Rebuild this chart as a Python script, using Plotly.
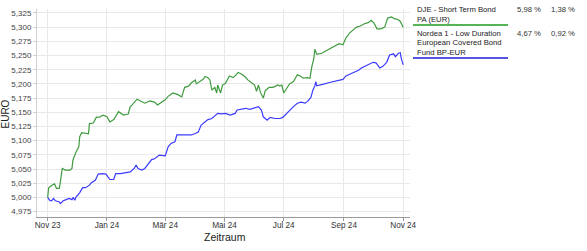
import plotly.graph_objects as go

# ---- data ----
dje_dates = ["2023-11-01","2023-11-02","2023-11-05","2023-11-08","2023-11-10","2023-11-13","2023-11-14","2023-11-16",
    "2023-11-19","2023-11-24","2023-11-26","2023-11-27","2023-11-30","2023-12-03","2023-12-04","2023-12-06",
    "2023-12-13","2023-12-14","2023-12-18","2023-12-21","2023-12-25","2023-12-28","2024-01-01","2024-01-04",
    "2024-01-08","2024-01-10","2024-01-13","2024-01-18","2024-01-23","2024-01-25","2024-01-27","2024-02-01",
    "2024-02-05","2024-02-09","2024-02-14","2024-02-19","2024-02-22","2024-02-26","2024-03-01","2024-03-04",
    "2024-03-09","2024-03-14","2024-03-18","2024-03-21","2024-03-25","2024-03-28","2024-04-01","2024-04-02",
    "2024-04-06","2024-04-09","2024-04-11","2024-04-14","2024-04-16","2024-04-18","2024-04-21","2024-04-23",
    "2024-04-24","2024-04-27","2024-04-29","2024-05-02","2024-05-06","2024-05-10","2024-05-13","2024-05-15",
    "2024-05-18","2024-05-22","2024-05-25","2024-05-29","2024-06-01","2024-06-03","2024-06-05","2024-06-07",
    "2024-06-10","2024-06-12","2024-06-16","2024-06-20","2024-06-25","2024-06-27","2024-06-29","2024-07-01",
    "2024-07-04","2024-07-07","2024-07-11","2024-07-15","2024-07-18","2024-07-21","2024-07-25","2024-07-28",
    "2024-07-30","2024-08-01","2024-08-02","2024-08-04","2024-08-09","2024-08-12","2024-08-15","2024-08-19",
    "2024-08-22","2024-08-27","2024-08-31","2024-09-03","2024-09-07","2024-09-10","2024-09-14","2024-09-18",
    "2024-09-22","2024-09-26","2024-09-29","2024-10-02","2024-10-05","2024-10-09","2024-10-13","2024-10-16",
    "2024-10-20","2024-10-23","2024-10-27","2024-10-29","2024-11-01"]
dje_values = [5.000,5.017,5.021,5.024,5.016,5.016,5.027,5.051,
    5.048,5.048,5.051,5.066,5.079,5.089,5.107,5.114,
    5.112,5.130,5.131,5.141,5.142,5.145,5.142,5.133,
    5.137,5.142,5.151,5.145,5.147,5.160,5.163,5.173,
    5.170,5.166,5.170,5.168,5.163,5.168,5.172,5.178,
    5.184,5.181,5.177,5.194,5.196,5.202,5.207,5.200,
    5.204,5.208,5.213,5.211,5.207,5.189,5.194,5.184,
    5.198,5.184,5.198,5.201,5.214,5.211,5.216,5.220,
    5.218,5.213,5.207,5.201,5.198,5.187,5.198,5.185,
    5.175,5.188,5.194,5.194,5.198,5.196,5.198,5.184,
    5.192,5.200,5.204,5.216,5.214,5.210,5.211,5.210,
    5.231,5.245,5.261,5.252,5.254,5.257,5.259,5.263,
    5.266,5.271,5.269,5.281,5.290,5.294,5.300,5.302,
    5.306,5.308,5.312,5.307,5.297,5.297,5.300,5.316,
    5.318,5.315,5.313,5.310,5.300]

nordea_dates = ["2023-11-01","2023-11-03","2023-11-05","2023-11-07","2023-11-09","2023-11-13","2023-11-14","2023-11-17",
    "2023-11-20","2023-11-23","2023-11-26","2023-11-27","2023-11-29","2023-11-30","2023-12-04","2023-12-07",
    "2023-12-10","2023-12-14","2023-12-16","2023-12-20","2023-12-23","2023-12-27","2023-12-31","2024-01-04",
    "2024-01-08","2024-01-10","2024-01-15","2024-01-20","2024-01-25","2024-01-29","2024-01-31","2024-02-02",
    "2024-02-06","2024-02-09","2024-02-13","2024-02-16","2024-02-19","2024-02-24","2024-03-01","2024-03-04",
    "2024-03-07","2024-03-11","2024-03-13","2024-03-18","2024-03-23","2024-03-28","2024-04-01","2024-04-04",
    "2024-04-07","2024-04-11","2024-04-14","2024-04-18","2024-04-21","2024-04-24","2024-04-28","2024-05-02",
    "2024-05-07","2024-05-12","2024-05-14","2024-05-18","2024-05-23","2024-05-27","2024-05-31","2024-06-05",
    "2024-06-08","2024-06-10","2024-06-14","2024-06-17","2024-06-22","2024-06-27","2024-06-30","2024-07-04",
    "2024-07-07","2024-07-11","2024-07-15","2024-07-19","2024-07-23","2024-07-26","2024-07-29","2024-07-31",
    "2024-08-02","2024-08-03","2024-08-04","2024-08-09","2024-08-12","2024-08-16","2024-08-21","2024-08-26",
    "2024-08-31","2024-09-03","2024-09-08","2024-09-12","2024-09-16","2024-09-19","2024-09-24","2024-09-27",
    "2024-10-01","2024-10-04","2024-10-08","2024-10-11","2024-10-15","2024-10-18","2024-10-22","2024-10-24",
    "2024-10-27","2024-10-29","2024-10-30","2024-11-01"]
nordea_values = [5.000,4.995,4.994,4.998,4.994,4.992,4.989,4.994,
    4.996,4.998,4.996,5.000,4.995,5.000,5.0085,5.017,
    5.017,5.0215,5.026,5.030,5.041,5.042,5.041,5.0315,
    5.0315,5.042,5.042,5.043,5.045,5.051,5.057,5.051,
    5.048,5.051,5.060,5.0666,5.068,5.0745,5.073,5.089,
    5.095,5.098,5.110,5.110,5.110,5.110,5.1125,5.115,
    5.1275,5.133,5.137,5.139,5.143,5.148,5.147,5.148,
    5.145,5.148,5.154,5.155,5.157,5.155,5.157,5.160,
    5.154,5.142,5.136,5.141,5.139,5.139,5.141,5.148,
    5.154,5.160,5.166,5.168,5.166,5.170,5.176,5.189,
    5.1965,5.204,5.1965,5.198,5.200,5.202,5.204,5.206,
    5.208,5.214,5.218,5.222,5.224,5.228,5.232,5.2336,
    5.238,5.237,5.228,5.231,5.238,5.251,5.253,5.248,
    5.254,5.255,5.245,5.2336]

series_names = [["DJE - Short Term Bond", "PA (EUR)"],
                ["Nordea 1 - Low Duration", "European Covered Bond", "Fund BP-EUR"]]
series_perf_total = ["5,98 %", "4,67 %"]
series_perf_period = ["1,38 %", "0,92 %"]
series_colors = ["#3f9b3f", "#3b3bff"]
underline_colors = ["#1e9a1e", "#1c1cdc"]

tick_dates = ["2023-11-01","2024-01-01","2024-03-01","2024-05-01","2024-07-01","2024-09-01","2024-11-01"]
tick_labels = ["Nov 23","Jan 24","Mär 24","Mai 24","Jul 24","Sep 24","Nov 24"]
y_ticks = [4.975,5.000,5.025,5.050,5.075,5.100,5.125,5.150,5.175,5.200,5.225,5.250,5.275,5.300,5.325]

W, H = 587, 251
ML, MR, MT, MB = 37, 177, 9, 34
PW = W - ML - MR
PH = H - MT - MB

def px2paper_x(px):
    return (px - ML) / PW

def py2paper_y(py):
    return 1 - (py - MT) / PH

fig = go.Figure()
fig.add_trace(go.Scatter(x=dje_dates, y=dje_values, mode="lines",
                         line=dict(color=series_colors[0], width=1.2), name="DJE"))
fig.add_trace(go.Scatter(x=nordea_dates, y=nordea_values, mode="lines",
                         line=dict(color=series_colors[1], width=1.2), name="Nordea"))

font_family = "Liberation Sans, Arial, sans-serif"

fig.update_layout(
    width=W, height=H,
    margin=dict(l=ML, r=MR, t=MT, b=MB, pad=0),
    paper_bgcolor="white", plot_bgcolor="white",
    showlegend=False,
    separators=",.",
    font=dict(family=font_family, size=8, color="#333333"),
    xaxis=dict(
        range=["2023-10-21", "2024-11-08"],
        tickvals=tick_dates, ticktext=tick_labels,
        showgrid=True, gridcolor="#e9e9e9", gridwidth=1,
        showline=True, linecolor="#9a9a9a", linewidth=1,
        ticks="outside", ticklen=3, tickcolor="#9a9a9a",
        tickfont=dict(size=8.2, color="#333333"),
        ticklabelstandoff=-3,
        zeroline=False,
    ),
    yaxis=dict(
        range=[4.9654, 5.332],
        tickvals=y_ticks, tickformat=".3f",
        showgrid=True, gridcolor="#e9e9e9", gridwidth=1,
        showline=True, linecolor="#d0d0d0", linewidth=1,
        ticks="outside", ticklen=3, tickcolor="#d0d0d0",
        tickfont=dict(size=8, color="#444444"),
        zeroline=False,
    ),
)

annotations = []
shapes = []
# axis titles
annotations.append(dict(text="EURO", xref="paper", yref="paper",
                        x=px2paper_x(4.5), y=py2paper_y(114), textangle=-90,
                        showarrow=False, font=dict(size=10, color="#222222"),
                        xanchor="center", yanchor="middle"))
annotations.append(dict(text="Zeitraum", xref="paper", yref="paper",
                        x=px2paper_x(225), y=py2paper_y(237),
                        showarrow=False, font=dict(size=10.5, color="#222222"),
                        xanchor="center", yanchor="middle"))

# legend table
line_h = 9.6
block_tops = [10, 33.3]
for i in range(2):
    for j, txt in enumerate(series_names[i]):
        annotations.append(dict(text=txt, xref="paper", yref="paper",
                                x=px2paper_x(415), y=py2paper_y(block_tops[i] + j * line_h),
                                showarrow=False, xanchor="left", yanchor="middle",
                                font=dict(size=7.7, color="#222222")))
    annotations.append(dict(text=series_perf_total[i], xref="paper", yref="paper",
                            x=px2paper_x(543), y=py2paper_y(block_tops[i]),
                            showarrow=False, xanchor="right", yanchor="middle",
                            font=dict(size=7.7, color="#333333")))
    annotations.append(dict(text=series_perf_period[i], xref="paper", yref="paper",
                            x=px2paper_x(577), y=py2paper_y(block_tops[i]),
                            showarrow=False, xanchor="right", yanchor="middle",
                            font=dict(size=7.7, color="#333333")))
    uy = block_tops[i] + (len(series_names[i]) - 1) * line_h + 5.4
    shapes.append(dict(type="line", xref="paper", yref="paper",
                       x0=px2paper_x(413), x1=px2paper_x(508),
                       y0=py2paper_y(uy), y1=py2paper_y(uy),
                       line=dict(color=underline_colors[i], width=1.5)))

fig.update_layout(annotations=annotations, shapes=shapes)
fig.write_html("out.html")
